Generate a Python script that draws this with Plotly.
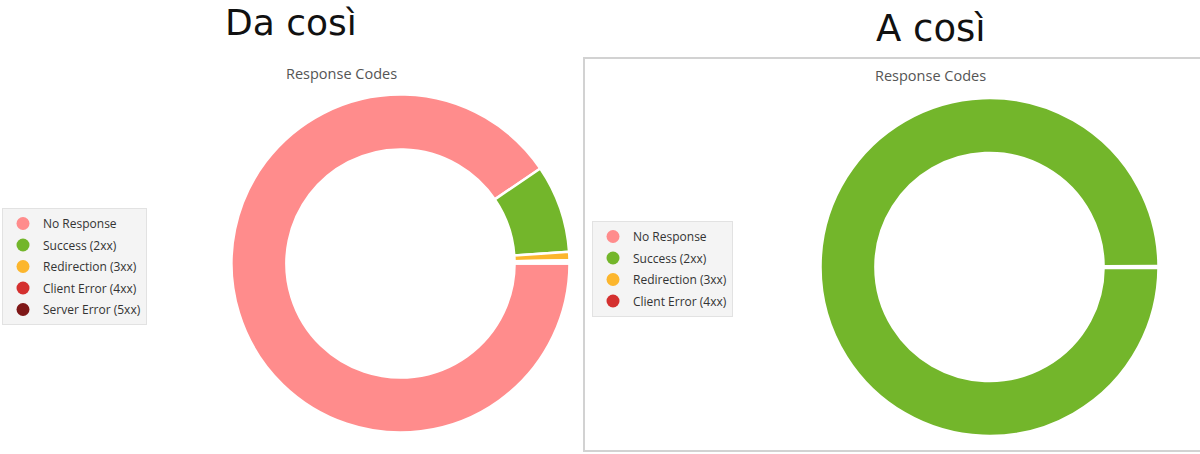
import plotly.graph_objects as go

# response code categories and colours
labels = ["No Response", "Success (2xx)", "Redirection (3xx)", "Client Error (4xx)", "Server Error (5xx)"]
colors = ["#ff8c8c", "#73b62b", "#fcb62d", "#d4302f", "#7e1717"]

# left chart ("Da così") - share of requests per 10000
before_values = [9050, 840, 80, 20, 10]
# right chart ("A così") - no Server Error entry
after_labels = labels[:4]
after_colors = colors[:4]
after_values = [10, 9980, 6, 4]

W, H = 1200, 454


def px_x(v):
    return v / W


def px_y(v):
    # pixel from top -> paper from bottom
    return 1 - v / H


fig = go.Figure()

# donuts
fig.add_trace(go.Pie(
    labels=labels, values=before_values, sort=False,
    direction="clockwise", rotation=90, hole=0.675,
    marker=dict(colors=colors, line=dict(color="white", width=2.5)),
    textinfo="none", showlegend=False,
    domain=dict(x=[px_x(231.5), px_x(569.5)], y=[px_y(432.5), px_y(94.5)]),
))
fig.add_trace(go.Pie(
    labels=after_labels, values=after_values, sort=False,
    direction="clockwise", rotation=90, hole=0.675,
    marker=dict(colors=after_colors, line=dict(color="white", width=2.5)),
    textinfo="none", showlegend=False,
    domain=dict(x=[px_x(820.5), px_x(1158.5)], y=[px_y(436), px_y(98)]),
))

# legend entries with round markers
for i, (lab, col) in enumerate(zip(labels, colors)):
    fig.add_trace(go.Scatter(x=[None], y=[None], mode="markers", name=lab,
                             marker=dict(color=col, size=13),
                             legend="legend", legendgroup="a%d" % i))
for i, (lab, col) in enumerate(zip(after_labels, after_colors)):
    fig.add_trace(go.Scatter(x=[None], y=[None], mode="markers", name=lab,
                             marker=dict(color=col, size=13),
                             legend="legend2", legendgroup="b%d" % i))

legend_style = dict(
    bgcolor="#f4f4f4", bordercolor="#e2e2e2", borderwidth=1,
    font=dict(family="Open Sans", size=12, color="#333"),
    xanchor="left", yanchor="top", tracegroupgap=2.5, itemclick=False,
)


def label(text, x, y, size, family, color, yanchor="middle"):
    return dict(text=text, x=px_x(x), y=px_y(y), xref="paper", yref="paper",
                xanchor="center", yanchor=yanchor, showarrow=False,
                font=dict(family=family, size=size, color=color))


fig.update_layout(
    width=W, height=H,
    margin=dict(l=0, r=0, t=0, b=0),
    paper_bgcolor="white", plot_bgcolor="white",
    xaxis=dict(visible=False), yaxis=dict(visible=False),
    legend=dict(x=px_x(2), y=px_y(208), **legend_style),
    legend2=dict(x=px_x(592), y=px_y(221), **legend_style),
    shapes=[dict(type="rect", xref="paper", yref="paper",
                 x0=px_x(584), x1=1.01, y0=px_y(451), y1=px_y(58),
                 line=dict(color="#d2d2d2", width=2), layer="below")],
    annotations=[
        label("Da così", 291, 0, 36, "DejaVu Sans", "#111", yanchor="top"),
        label("A così", 931, 29, 37, "DejaVu Sans", "#111"),
        label("Response Codes", 341, 73, 14.5, "Open Sans", "#555"),
        label("Response Codes", 930, 76, 14.5, "Open Sans", "#555"),
    ],
)

fig.write_html("out.html", config={"displayModeBar": False},
               post_script="document.body.style.margin='0';")
